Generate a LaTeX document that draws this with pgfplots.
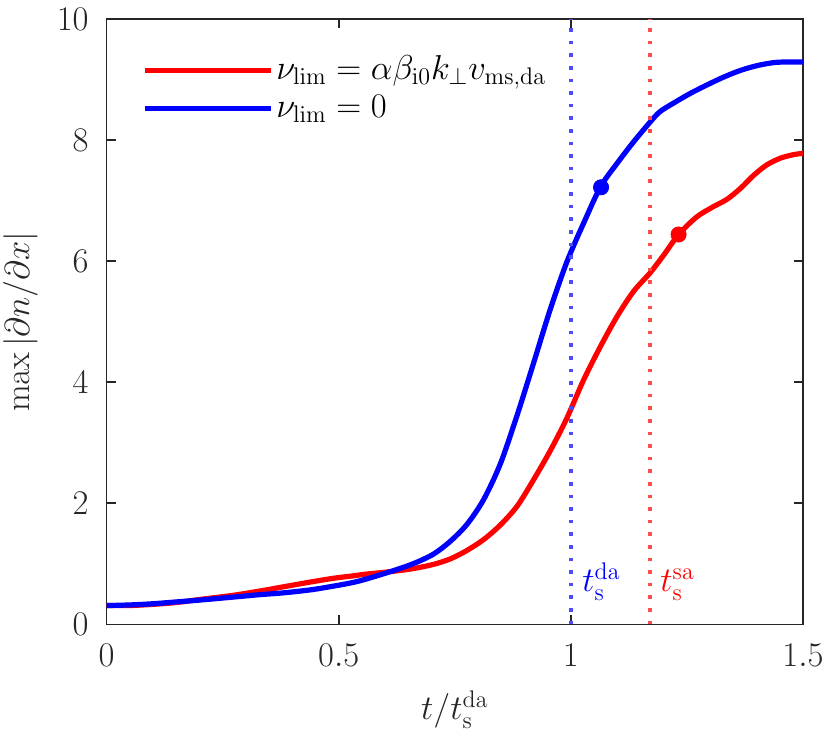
\documentclass[border=0pt]{standalone}
\usepackage{pgfplots}
\pgfplotsset{compat=1.18}
\definecolor{axgray}{HTML}{262626}
\begin{document}
\fontsize{17.5}{21}\selectfont
\begin{tikzpicture}
\begin{axis}[
  scale only axis,
  width=348pt, height=302.5pt,
  xmin=0, xmax=1.5, ymin=0, ymax=10,
  xtick={0,0.5,1,1.5}, ytick={0,2,4,6,8,10},
  tick align=inside, major tick length=4.5pt,
  axis line style={axgray, line width=0.8pt},
  tick style={axgray, line width=0.8pt},
  ticklabel style={text=axgray, font=\fontsize{17.5}{21}\selectfont},
  xticklabel style={yshift=-4pt},
  yticklabel style={xshift=-3pt},
  xlabel={$t/t_{\mathrm{s}}^{\mathrm{da}}$},
  ylabel={$\max|\partial n/\partial x|$},
  label style={text=axgray, font=\fontsize{17.5}{21}\selectfont},
  xlabel style={yshift=0pt},
  ylabel style={inner sep=0pt, yshift=3.5pt},
  legend cell align=left,
  legend style={draw=none, fill=none, at={(0.051,0.945)}, anchor=north west,
    inner sep=0pt, row sep=2pt, font=\fontsize{17.5}{21}\selectfont,
    nodes={inner sep=1.5pt}},
  legend image code/.code={\draw[#1, line width=2.4pt] (0pt,0pt) -- (63pt,0pt);},
]
\addplot[red, line width=2.6pt, smooth] coordinates {
(0,0.31) (0.05,0.31) (0.1,0.33) (0.15,0.36) (0.2,0.41) (0.273,0.48) (0.33,0.55)
(0.381,0.62) (0.44,0.70) (0.488,0.76) (0.53,0.80) (0.56,0.83) (0.611,0.87)
(0.66,0.92) (0.704,0.99) (0.74,1.08) (0.776,1.22) (0.812,1.40) (0.848,1.64)
(0.884,1.95) (0.919,2.38) (0.955,2.86) (0.991,3.40) (1.027,4.03) (1.063,4.58)
(1.099,5.08) (1.135,5.50) (1.171,5.81) (1.20,6.10) (1.232,6.44) (1.271,6.73)
(1.307,6.90) (1.336,7.02) (1.365,7.20) (1.394,7.42) (1.422,7.59) (1.451,7.70)
(1.48,7.76) (1.5,7.78)};
\addlegendentry{$\nu_{\mathrm{lim}}=\alpha\beta_{\mathrm{i0}}k_{\perp}v_{\mathrm{ms,da}}$}
\addplot[blue, line width=2.6pt, smooth] coordinates {
(0,0.31) (0.05,0.32) (0.1,0.34) (0.15,0.37) (0.2,0.40) (0.273,0.45) (0.33,0.49)
(0.381,0.52) (0.44,0.57) (0.488,0.63) (0.53,0.69) (0.56,0.75) (0.611,0.87)
(0.66,1.0) (0.704,1.16) (0.74,1.37) (0.776,1.65) (0.812,2.06) (0.848,2.65)
(0.884,3.45) (0.919,4.30) (0.955,5.19) (0.991,5.98) (1.027,6.62) (1.064,7.23)
(1.099,7.61) (1.135,7.97) (1.171,8.30) (1.192,8.47) (1.221,8.61) (1.257,8.77)
(1.293,8.91) (1.329,9.04) (1.365,9.15) (1.401,9.23) (1.437,9.28) (1.465,9.29)
(1.5,9.29)};
\addlegendentry{$\nu_{\mathrm{lim}}=0$}
\addplot[forget plot, only marks, mark=*, blue, mark size=3.8pt] coordinates {(1.065,7.22)};
\addplot[forget plot, only marks, mark=*, red, mark size=3.8pt] coordinates {(1.232,6.44)};
\addplot[forget plot, blue!70, line width=2pt, dash pattern=on 1.8pt off 4.5pt] coordinates {(1,0) (1,10)};
\addplot[forget plot, red!70, line width=2pt, dash pattern=on 1.8pt off 4.5pt] coordinates {(1.171,0) (1.171,10)};
\node[anchor=base west, inner sep=0pt, text=blue] at (axis cs:1.024,0.54) {$t_{\mathrm{s}}^{\mathrm{da}}$};
\node[anchor=base west, inner sep=0pt, text=red] at (axis cs:1.192,0.54) {$t_{\mathrm{s}}^{\mathrm{sa}}$};
\end{axis}
\pgfresetboundingbox
\path ([xshift=-53.3pt,yshift=-53pt]current axis.south west) rectangle ([xshift=13pt,yshift=9.5pt]current axis.north east);
\end{tikzpicture}
\end{document}
